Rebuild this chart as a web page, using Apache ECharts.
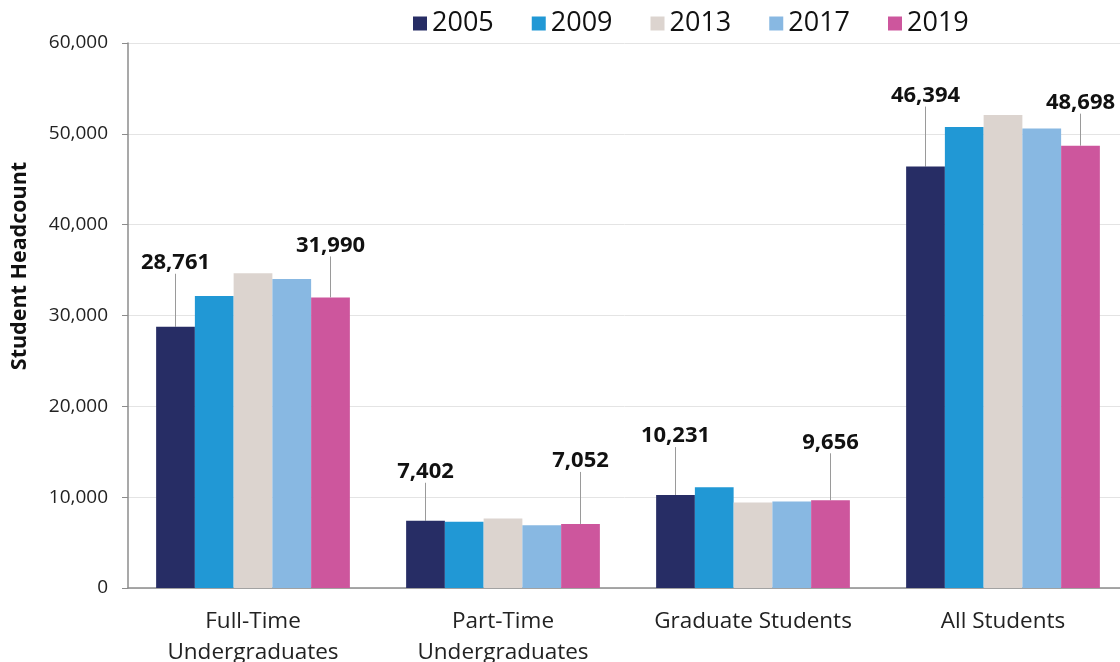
<!DOCTYPE html>
<html>
<head>
<meta charset="utf-8">
<script src="https://cdn.jsdelivr.net/npm/echarts@6/dist/echarts.min.js"></script>
<style>html,body{margin:0;padding:0;background:#fff}#chart{width:1120px;height:662px}</style>
</head>
<body>
<div id="chart"></div>
<script>
const categories = ['Full-Time\nUndergraduates', 'Part-Time\nUndergraduates', 'Graduate Students', 'All Students'];
const years = ['2005', '2009', '2013', '2017', '2019'];
const values2005 = [28761, 7402, 10231, 46394];
const values2009 = [32150, 7300, 11100, 50750];
const values2013 = [34650, 7650, 9420, 52070];
const values2017 = [34020, 6900, 9520, 50590];
const values2019 = [31990, 7052, 9656, 48698];
const yTicks = [0, 10000, 20000, 30000, 40000, 50000, 60000];

const seriesValues = [values2005, values2009, values2013, values2017, values2019];
const colors = ['#272d65', '#2198d5', '#dcd4cf', '#88b8e2', '#cd569d'];
// distance (px) from bar top to the callout label, for labelled series
const labelLift = {
  0: [57, 42, 52, 64],
  4: [45, 56, 51, 36]
};

const chart = echarts.init(document.getElementById('chart'), null, {renderer: 'canvas'});
const FONT = 'Open Sans';

const series = years.map((y, i) => {
  const s = {
    name: y,
    type: 'bar',
    data: seriesValues[i],
    barGap: '0%',
    barCategoryGap: '22.5%',
    itemStyle: {color: colors[i]},
    emphasis: {disabled: true},
    animation: false
  };
  if (labelLift[i]) {
    s.label = {
      show: true,
      position: 'top',
      distance: 2,
      fontFamily: FONT,
      fontWeight: 'bold',
      fontSize: 22,
      color: '#111',
      formatter: p => p.value.toLocaleString('en-US')
    };
    s.labelLayout = function (params) {
      return {dy: -(labelLift[i][params.dataIndex] - 6)};
    };
    s.labelLine = {show: true, lineStyle: {color: '#9a9a9a', width: 1}, length2: 0};
  }
  return s;
});

chart.setOption({
  backgroundColor: '#fff',
  animation: false,
  legend: {
    data: years,
    left: 408,
    top: 5,
    itemWidth: 14,
    itemHeight: 14,
    itemGap: 38,
    icon: 'rect',
    textStyle: {fontFamily: FONT, fontSize: 27, color: '#111'}
  },
  grid: {left: 128, top: 43, bottom: 74, width: 1000, containLabel: false, outerBoundsMode: 'none'},
  xAxis: {
    type: 'category',
    data: categories,
    axisLine: {lineStyle: {color: '#8c8c8c', width: 1.5}},
    axisTick: {show: false},
    axisLabel: {fontFamily: FONT, fontSize: 22.5, color: '#222', lineHeight: 31, margin: 18, interval: 0}
  },
  yAxis: {
    type: 'value',
    min: yTicks[0],
    max: yTicks[yTicks.length - 1],
    interval: 10000,
    axisLine: {show: true, lineStyle: {color: '#8c8c8c', width: 1.5}},
    axisTick: {show: true, length: 6, lineStyle: {color: '#8c8c8c'}},
    splitLine: {lineStyle: {color: '#e4e4e4', width: 1}},
    axisLabel: {
      fontFamily: FONT, fontSize: 19, color: '#222', margin: 20,
      formatter: v => v.toLocaleString('en-US')
    }
  },
  graphic: [{
    type: 'text',
    x: 20,
    y: 266,
    rotation: Math.PI / 2,
    style: {
      text: 'Student Headcount',
      fontFamily: FONT,
      fontWeight: 'bold',
      fontSize: 21.5,
      fill: '#111',
      align: 'center',
      verticalAlign: 'middle'
    }
  }],
  series: series
});
</script>
</body>
</html>
